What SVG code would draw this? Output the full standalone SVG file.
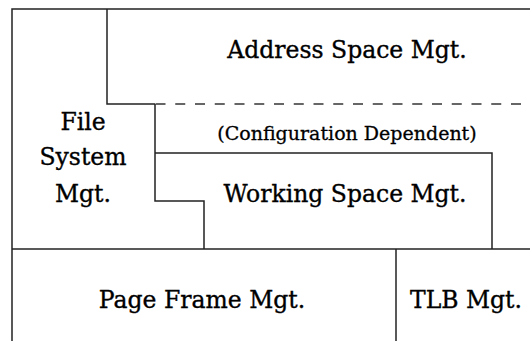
<svg xmlns="http://www.w3.org/2000/svg" width="530" height="341" viewBox="0 0 530 341">
<style>
.ln{fill:none;stroke:#222;stroke-width:1.5}
.dash{fill:none;stroke:#666;stroke-width:2;stroke-dasharray:10,9.75}
.t{font-family:"DejaVu Serif",serif;font-size:23.5px;fill:#000;stroke:#000;stroke-width:0.35;text-anchor:middle}
.s{font-family:"DejaVu Serif",serif;font-size:19px;fill:#000;stroke:#000;stroke-width:0.3;text-anchor:middle}
</style>
<rect width="530" height="341" fill="#fff"/>
<g id="connectors">
<path class="ln" d="M12,341 V9 H530"/>
<path class="ln" d="M107,9 V104 H155"/>
<path class="dash" d="M155.5,104 H530"/>
<path class="ln" d="M155,104 V201 H204 V249"/>
<path class="ln" d="M155,153 H492 V249"/>
<path class="ln" d="M12,249 H530"/>
<path class="ln" d="M396,249 V341"/>
</g>
<g id="address-space"><text class="t" x="347" y="58">Address Space Mgt.</text></g>
<g id="file-system"><text class="t" x="83" y="130">File</text><text class="t" x="83" y="165">System</text><text class="t" x="83" y="202">Mgt.</text></g>
<g id="config"><text class="s" x="347" y="140">(Configuration Dependent)</text></g>
<g id="working-space"><text class="t" x="345" y="202">Working Space Mgt.</text></g>
<g id="page-frame"><text class="t" x="202" y="308">Page Frame Mgt.</text></g>
<g id="tlb"><text class="t" x="466" y="308">TLB Mgt.</text></g>
</svg>
